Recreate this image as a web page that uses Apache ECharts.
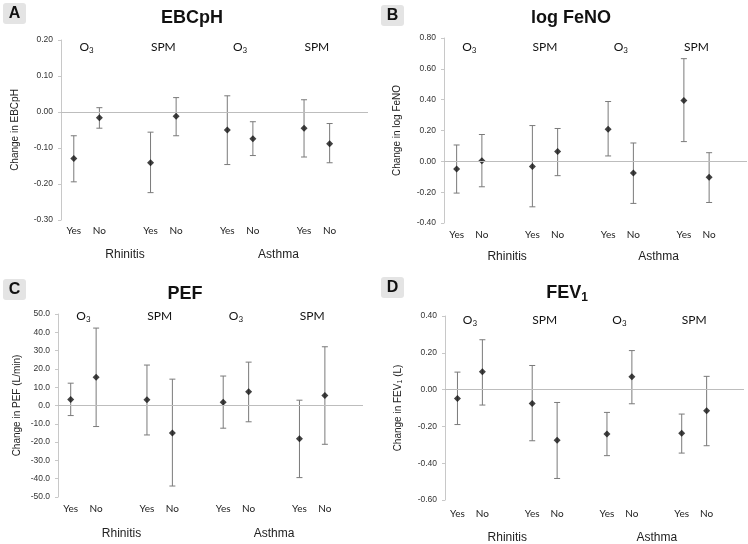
<!DOCTYPE html>
<html>
<head>
<meta charset="utf-8">
<script src="https://cdn.jsdelivr.net/npm/echarts@6/dist/echarts.min.js"></script>
<style>
html,body{margin:0;padding:0;background:#fff;}
#chart{width:748px;height:544px;}
</style>
</head>
<body>
<div id="chart"></div>
<script>
// ---- data ----
const categories = ['Yes','No','','Yes','No','','Yes','No','','Yes','No',''];
const conditionLabels = ['','','Rhinitis','','','','','','Asthma','','',''];
const pollutants = ['O3','SPM','O3','SPM'];
const slotIndex = [0,1,3,4,6,7,9,10];

const ebcMean = [-0.129,-0.016,-0.141,-0.012,-0.050,-0.074,-0.045,-0.088];
const ebcLow  = [-0.194,-0.045,-0.224,-0.066,-0.146,-0.121,-0.125,-0.141];
const ebcHigh = [-0.066, 0.012,-0.056, 0.040, 0.045,-0.027, 0.034,-0.032];
const ebcTicks = [-0.30,-0.20,-0.10,0.00,0.10,0.20];

const fenoMean = [-0.050, 0.004,-0.033, 0.063, 0.208,-0.076, 0.395,-0.104];
const fenoLow  = [-0.206,-0.165,-0.295,-0.093, 0.035,-0.273, 0.128,-0.267];
const fenoHigh = [ 0.106, 0.174, 0.232, 0.213, 0.388, 0.119, 0.666, 0.056];
const fenoTicks = [-0.40,-0.20,0.00,0.20,0.40,0.60,0.80];

const pefMean = [3.3, 15.5, 3.1,-15.0,  1.8, 7.5,-18.2,  5.5];
const pefLow  = [-5.5,-11.5,-16.1,-44.0,-12.4,-8.9,-39.4,-21.2];
const pefHigh = [12.2, 42.3, 22.1, 14.4, 16.1,23.7,  2.9, 32.1];
const pefTicks = [-50,-40,-30,-20,-10,0,10,20,30,40,50];

const fevMean = [-0.048, 0.097,-0.075,-0.275,-0.241, 0.070,-0.237,-0.115];
const fevLow  = [-0.190,-0.084,-0.278,-0.483,-0.359,-0.077,-0.345,-0.305];
const fevHigh = [ 0.095, 0.271, 0.131,-0.070,-0.124, 0.212,-0.133, 0.072];
const fevTicks = [-0.60,-0.40,-0.20,0.00,0.20,0.40];

// ---- panel setup (layout & style) ----
const panels = [
  {letter:'A', title:'EBCpH', yName:'Change in EBCpH', mean:ebcMean, low:ebcLow, high:ebcHigh, ticks:ebcTicks, dec:2,
   grid:{left:61, top:40, width:307, height:180}, nameGap:41, lblMargin:6, condOffset:23, groupOff:7,
   titleXY:[192,18], box:[3,3]},
  {letter:'B', title:'log FeNO', yName:'Change in log FeNO', mean:fenoMean, low:fenoLow, high:fenoHigh, ticks:fenoTicks, dec:2,
   grid:{left:444, top:38, width:303, height:185}, nameGap:42, lblMargin:7, condOffset:21, groupOff:9,
   titleXY:[571,18], box:[381,5]},
  {letter:'C', title:'PEF', yName:'Change in PEF (L/min)', mean:pefMean, low:pefLow, high:pefHigh, ticks:pefTicks, dec:1,
   grid:{left:58, top:314, width:305, height:183}, nameGap:36, lblMargin:7, condOffset:24, groupOff:2,
   titleXY:[185,294], box:[3,279]},
  {letter:'D', title:'FEV', titleSub:'1', yName:'Change in FEV', yNameSub:'1', yNameTail:' (L)', mean:fevMean, low:fevLow, high:fevHigh, ticks:fevTicks, dec:2,
   grid:{left:445, top:316, width:299, height:186}, nameGap:41, lblMargin:9, condOffset:23, groupOff:4,
   titleXY:[567,293], box:[381,277]}
];

const SANS = '"Liberation Sans", Arial, sans-serif';
const LABELF = 'Lato, "Open Sans", sans-serif';
const BAR = '#7a7a7a';

const grids = [], xAxes = [], yAxes = [], series = [], graphics = [];

panels.forEach((p, i) => {
  grids.push(Object.assign({containLabel:false}, p.grid));
  const tmin = p.ticks[0], tmax = p.ticks[p.ticks.length-1];
  const step = p.ticks[1] - p.ticks[0];
  xAxes.push({
    type:'category', gridIndex:i, data:categories, position:'bottom',
    axisLine:{show:false}, axisTick:{show:false}, splitLine:{show:false},
    axisLabel:{interval:0, margin:p.lblMargin, fontFamily:LABELF, fontSize:10, color:'#222'}
  });
  xAxes.push({
    type:'category', gridIndex:i, data:conditionLabels, position:'bottom', offset:p.condOffset,
    axisLine:{show:false}, axisTick:{show:false}, splitLine:{show:false},
    axisLabel:{interval:0, margin:p.lblMargin, fontFamily:SANS, fontSize:12, color:'#222'}
  });
  const nameText = p.yNameSub ? '{n|' + p.yName + '}{s|' + p.yNameSub + '}{n|' + p.yNameTail + '}' : p.yName;
  yAxes.push({
    type:'value', gridIndex:i, min:tmin, max:tmax, interval:step,
    name:nameText, nameLocation:'middle', nameGap:p.nameGap,
    nameTextStyle:{fontFamily:SANS, fontSize:10, color:'#222',
      rich:{n:{fontFamily:SANS, fontSize:10, color:'#222'}, s:{fontFamily:SANS, fontSize:7, color:'#222', verticalAlign:'bottom', padding:[4,0,0,0]}}},
    axisLine:{show:true, lineStyle:{color:'#c8c8c8', width:1}},
    axisTick:{show:true, length:3, lineStyle:{color:'#c8c8c8'}},
    splitLine:{show:false},
    axisLabel:{fontFamily:SANS, fontSize:8.5, color:'#333', margin:8,
      formatter: v => (Math.abs(v) < 1e-9 ? 0 : v).toFixed(p.dec)}
  });
  const xi = i*2;
  // error bars
  series.push({
    type:'custom', xAxisIndex:xi, yAxisIndex:i, z:2, silent:true,
    data: slotIndex.map((s,k) => [s, p.low[k], p.high[k]]),
    renderItem: function(params, api){
      const x = api.value(0);
      const lo = api.coord([x, api.value(1)]);
      const hi = api.coord([x, api.value(2)]);
      const w = 3;
      const st = {stroke:BAR, lineWidth:1};
      return {type:'group', children:[
        {type:'line', shape:{x1:lo[0], y1:lo[1], x2:hi[0], y2:hi[1]}, style:st},
        {type:'line', shape:{x1:lo[0]-w, y1:lo[1], x2:lo[0]+w, y2:lo[1]}, style:st},
        {type:'line', shape:{x1:hi[0]-w, y1:hi[1], x2:hi[0]+w, y2:hi[1]}, style:st}
      ]};
    }
  });
  // points + zero line
  series.push({
    type:'scatter', xAxisIndex:xi, yAxisIndex:i, z:3, silent:true,
    symbol:'diamond', symbolSize:7, itemStyle:{color:'#111'},
    data: slotIndex.map((s,k) => [s, p.mean[k]]),
    markLine:{silent:true, symbol:'none', label:{show:false},
      lineStyle:{color:'#bdbdbd', type:'solid', width:1},
      data:[{yAxis:0}]}
  });
  // pollutant group labels
  series.push({
    type:'custom', xAxisIndex:xi, yAxisIndex:i, z:4, silent:true,
    data: pollutants.map((name,g) => [slotIndex[g*2], slotIndex[g*2+1], g]),
    renderItem: function(params, api){
      const a = api.coord([api.value(0), tmax]);
      const b = api.coord([api.value(1), tmax]);
      const name = pollutants[params.dataIndex];
      const txt = name === 'O3' ? '{m|O}{s|3}' : '{m|' + name + '}';
      return {type:'text', x:(a[0]+b[0])/2, y:a[1] + p.groupOff,
        style:{text:txt, align:'center', verticalAlign:'middle',
          rich:{m:{fontFamily:LABELF, fontSize:12, fill:'#111'},
                s:{fontFamily:LABELF, fontSize:8, fill:'#111', padding:[6,0,0,0]}}}};
    }
  });
  // title
  const ttxt = p.titleSub ? '{t|' + p.title + '}{s|' + p.titleSub + '}' : '{t|' + p.title + '}';
  graphics.push({type:'text', x:p.titleXY[0], y:p.titleXY[1],
    style:{text:ttxt, align:'center', verticalAlign:'middle',
      rich:{t:{fontFamily:SANS, fontSize:18, fontWeight:'bold', fill:'#111'},
            s:{fontFamily:SANS, fontSize:12, fontWeight:'bold', fill:'#111', padding:[9,0,0,0]}}}});
  // panel letter
  graphics.push({type:'group', x:p.box[0], y:p.box[1], children:[
    {type:'rect', shape:{x:0, y:0, width:23, height:21, r:3}, style:{fill:'#e4e4e4'}},
    {type:'text', x:11.5, y:11, style:{text:p.letter, align:'center', verticalAlign:'middle',
      font:'bold 16px "Liberation Sans", Arial, sans-serif', fill:'#111'}}
  ]});
});

const chart = echarts.init(document.getElementById('chart'), null, {renderer:'canvas'});
chart.setOption({
  backgroundColor:'#ffffff',
  animation:false,
  grid:grids, xAxis:xAxes, yAxis:yAxes, series:series, graphic:graphics
});
</script>
</body>
</html>
